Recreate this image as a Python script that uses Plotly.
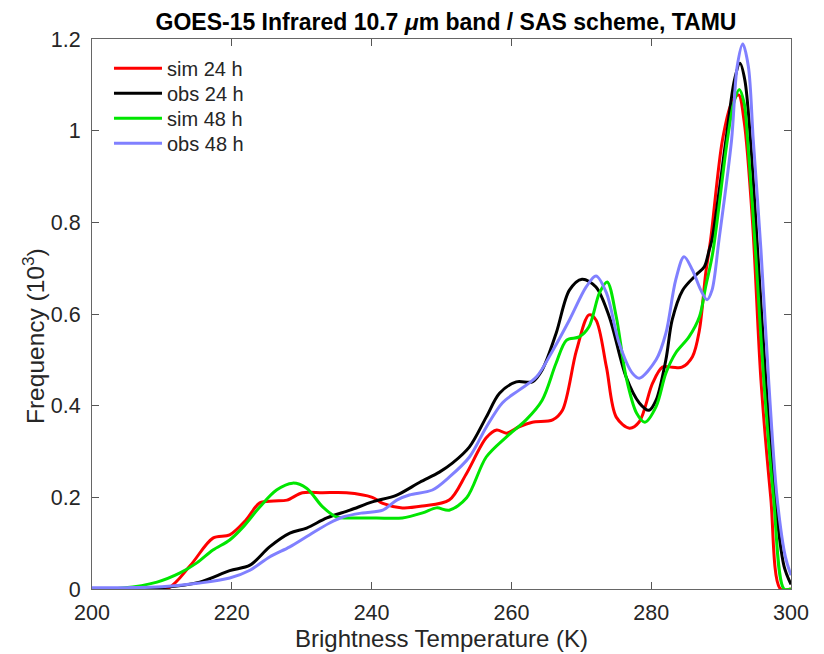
import plotly.graph_objects as go

# Brightness temperature (K) and frequency (10^3)
sim24_t = [200, 205, 210.7, 214, 217.3, 219.7, 222, 224, 226, 227.9, 230.1, 233, 236.4, 240.1, 241.6, 244.4,
           247.3, 251.1, 253.5, 256.4, 257.9, 259.3, 261.1, 263, 265.9, 267.3, 269.3, 271.1, 272.1, 273.6,
           275, 276.9, 278.3, 280.2, 281.6, 283, 284.4, 285.9, 286.9, 287.8, 288.5, 290.2, 291.5, 292.5,
           293.3, 294.5, 295.7, 297.1, 298.5, 300]
sim24_v = [0.0, 0.0, 0.0, 0.05, 0.111, 0.118, 0.15, 0.188, 0.192, 0.194, 0.21, 0.21, 0.21, 0.2, 0.187, 0.177,
           0.181, 0.194, 0.25, 0.33, 0.347, 0.34, 0.354, 0.364, 0.369, 0.39, 0.52, 0.598, 0.587, 0.484,
           0.375, 0.351, 0.365, 0.449, 0.484, 0.484, 0.484, 0.507, 0.565, 0.689, 0.762, 0.98, 1.06, 1.078,
           1.02, 0.8, 0.456, 0.2, 0.0, 0.0]

obs24_t = [200, 205, 210, 215.4, 219.7, 222.6, 225.4, 228.3, 230.7, 233.6, 236.9, 240.1, 243.6, 246.9,
           249.7, 251.6, 254, 256.4, 258.3, 260.7, 263, 264.4, 266.4, 268.3, 270.1, 272.1, 274, 276.4,
           278.3, 279.7, 280.7, 282.1, 283, 284.5, 286.4, 287.6, 288.3, 288.7, 290.7, 291.9, 292.7,
           293.4, 294.2, 295.3, 296.4, 297.7, 299, 300]
obs24_v = [0.0, 0.0, 0.003, 0.015, 0.04, 0.052, 0.092, 0.122, 0.133, 0.155, 0.172, 0.19, 0.205, 0.233,
           0.255, 0.275, 0.31, 0.375, 0.427, 0.452, 0.452, 0.478, 0.558, 0.652, 0.676, 0.659, 0.594, 0.463,
           0.406, 0.39, 0.412, 0.5, 0.587, 0.652, 0.685, 0.703, 0.74, 0.762, 0.98, 1.11, 1.147,
           1.11, 0.98, 0.72, 0.456, 0.2, 0.05, 0.01]

sim48_t = [200, 204.4, 209.3, 212.6, 215, 217.3, 219.7, 221.6, 224, 226.4, 228.7, 230.7, 233, 235,
           237.9, 240.7, 244.4, 247.3, 249.3, 251.1, 253.6, 256.4, 259.3, 262.1, 264.4, 266.4, 267.9,
           269.7, 271.1, 272.6, 273.7, 275, 276.4, 277.9, 279.1, 280.7, 282.1, 283.5, 285.4, 286.9,
           287.8, 288.8, 290.9, 291.8, 292.6, 293.3, 293.8, 295, 296.1, 297.5, 299, 300]
sim48_v = [0.0, 0.002, 0.015, 0.035, 0.057, 0.085, 0.107, 0.135, 0.179, 0.216, 0.231, 0.22, 0.179, 0.157,
           0.155, 0.155, 0.155, 0.166, 0.177, 0.172, 0.199, 0.288, 0.332, 0.369, 0.412, 0.493, 0.543,
           0.55, 0.572, 0.646, 0.67, 0.594, 0.463, 0.384, 0.364, 0.398, 0.471, 0.515, 0.55, 0.594,
           0.66, 0.733, 0.98, 1.06, 1.09, 1.06, 0.98, 0.72, 0.456, 0.2, 0.0, 0.0]

obs48_t = [200, 205, 210, 215.4, 219.7, 222.6, 225.4, 228.3, 231.1, 234, 235.9, 238.7, 241.6, 243.6,
           245.4, 248.7, 251.1, 254, 256.4, 258.7, 261.1, 263.6, 265.9, 268.3, 270.7, 272.1, 273.6,
           275.4, 277.3, 278.3, 280.7, 282.1, 283.5, 284.7, 285.9, 287.1, 288, 288.7, 289.7, 291.5,
           292.3, 293.1, 293.9, 294.6, 295.7, 296.8, 298, 299.2, 300]
obs48_v = [0.003, 0.003, 0.005, 0.013, 0.024, 0.041, 0.07, 0.092, 0.118, 0.144, 0.157, 0.166, 0.172, 0.194,
           0.205, 0.216, 0.244, 0.288, 0.353, 0.406, 0.434, 0.463, 0.52, 0.587, 0.659, 0.683, 0.646,
           0.537, 0.471, 0.46, 0.5, 0.558, 0.674, 0.725, 0.696, 0.652, 0.631, 0.652, 0.762, 0.98,
           1.14, 1.189, 1.14, 0.98, 0.74, 0.456, 0.2, 0.07, 0.03]

x_ticks = [200, 220, 240, 260, 280, 300]
y_ticks = [0, 0.2, 0.4, 0.6, 0.8, 1.0, 1.2]
y_tick_labels = ["0", "0.2", "0.4", "0.6", "0.8", "1", "1.2"]

series = [
    ("sim 24 h", sim24_t, sim24_v, "#ff0000"),
    ("obs 24 h", obs24_t, obs24_v, "#000000"),
    ("sim 48 h", sim48_t, sim48_v, "#00e600"),
    ("obs 48 h", obs48_t, obs48_v, "#8080ff"),
]

font_family = "Liberation Sans, Arial, sans-serif"
legend_rows_y = [0.9467, 0.9013, 0.8558, 0.8104]

fig = go.Figure()
layout_legends = {}
for i, (name, t, v, c) in enumerate(series):
    lname = "legend" if i == 0 else f"legend{i + 1}"
    fig.add_trace(go.Scatter(x=t, y=v, name=name, mode="lines", legend=lname,
                             line=dict(color=c, width=3, shape="spline", smoothing=0.9)))
    layout_legends[lname] = dict(x=0.0243, y=legend_rows_y[i], xanchor="left", yanchor="middle",
                                 bgcolor="rgba(255,255,255,0)", borderwidth=0, itemwidth=48,
                                 font=dict(size=20, color="#262626", family=font_family))

axis_common = dict(showline=True, linecolor="#666666", linewidth=1, mirror="ticks",
                   ticks="inside", ticklen=7, tickcolor="#555555", showgrid=False, zeroline=False,
                   automargin=False,
                   tickfont=dict(size=21.5, color="#262626", family=font_family))

# the page body adds an 8px offset, margins compensate for it
fig.update_layout(
    width=824, height=654,
    margin=dict(l=84, r=41, t=31, b=73),
    paper_bgcolor="white", plot_bgcolor="white",
    showlegend=True,
    title=dict(text="<b>GOES-15 Infrared 10.7 <i>μ</i>m band / SAS scheme, TAMU</b>",
               x=438 / 824, xanchor="center", y=1 - 14 / 654, yanchor="middle",
               font=dict(size=23, color="#000000", family=font_family)),
    xaxis=dict(range=[200, 300], tickvals=x_ticks, ticktext=[str(v) for v in x_ticks],
               ticklabelstandoff=4,
               title=dict(text="Brightness Temperature (K)", standoff=5,
                          font=dict(size=24, color="#262626", family=font_family)),
               **axis_common),
    yaxis=dict(range=[0, 1.2], tickvals=y_ticks, ticktext=y_tick_labels,
               ticklabelstandoff=6,
               **axis_common),
    annotations=[dict(text="Frequency (10<sup>3</sup>)", xref="paper", yref="paper",
                      x=(33 - 92) / 699, y=(589 - 336) / 550, xanchor="center", yanchor="middle",
                      textangle=-90, showarrow=False,
                      font=dict(size=24.5, color="#262626", family=font_family))],
    **layout_legends,
)

fig.write_html("out.html")
